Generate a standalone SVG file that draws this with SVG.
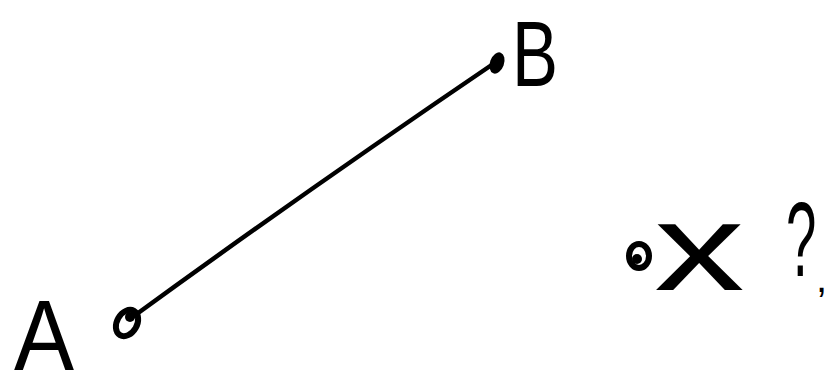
<svg xmlns="http://www.w3.org/2000/svg" width="830" height="392" viewBox="0 0 830 392">
<style>
.lbl{font-family:"Liberation Sans",Arial,sans-serif;fill:#000}
.pt{fill:none;stroke:#000;stroke-width:6}
.ln{fill:none;stroke:#000;stroke-width:4.5;stroke-linecap:round}
</style>
<rect width="830" height="392" fill="#fff"/>
<g id="connectors">
<path class="ln" d="M134,316 Q300,195 496,62"/>
</g>
<g id="nodeA">
<ellipse class="pt" cx="127" cy="323" rx="10" ry="14" transform="rotate(30 127 323)"/>
<circle cx="130" cy="317" r="5"/>
<text class="lbl" x="14" y="370" font-size="100" transform="translate(14 0) scale(0.9 1) translate(-14 0)">A</text>
</g>
<g id="nodeB">
<ellipse cx="497" cy="63" rx="7" ry="11" transform="rotate(20 497 63)"/>
<text class="lbl" x="512" y="86" font-size="92" transform="translate(512 0) scale(0.75 1) translate(-512 0)">B</text>
</g>
<g id="nodeX">
<ellipse class="pt" cx="639" cy="256" rx="10" ry="12"/>
<circle cx="637" cy="259" r="5"/>
<text class="lbl" x="654" y="290" font-size="125" transform="translate(654 0) scale(1.45 1) translate(-654 0)">x</text>
<text class="lbl" x="786" y="276" font-size="105" transform="translate(786 0) scale(0.52 1) translate(-786 0)">?</text>
<text class="lbl" x="816" y="292" font-size="40">,</text>
</g>
</svg>
